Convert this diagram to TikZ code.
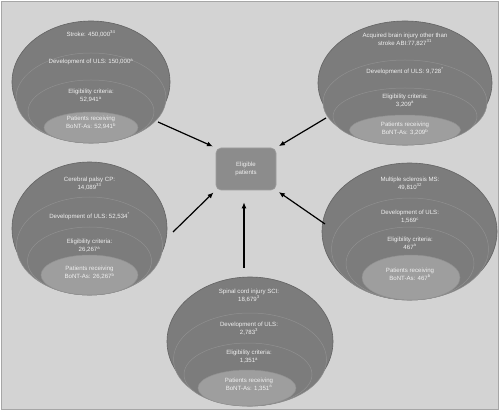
\documentclass[tikz,border=0pt]{standalone}
\usepackage{xcolor}
\usepackage{tikz}
\usetikzlibrary{arrows.meta}
\usepackage{fontspec}
\setmainfont{Liberation Sans}

\definecolor{bggray}{HTML}{D3D3D3}
\definecolor{framegray}{HTML}{A6A6A6}
\definecolor{ringgray}{HTML}{7C7C7C}
\definecolor{ringline}{HTML}{909090}
\definecolor{coregray}{HTML}{9E9E9E}
\definecolor{boxgray}{HTML}{8C8C8C}
\definecolor{txtgray}{HTML}{F0F0F0}

\begin{document}
\begin{tikzpicture}[x=1pt,y=-1pt,
   outerring/.style={fill=ringgray,draw=ringgray!80!black,line width=0.6pt},
   ring/.style={fill=ringgray,draw=ringline,line width=0.5pt},
   core/.style={fill=coregray,draw=ringline,line width=0.5pt},
   lbl/.style={text=txtgray,align=center,inner sep=0pt,font=\fontsize{6.1}{7.9}\selectfont},
   feed/.style={line width=1.2pt,-{Latex[length=6pt,width=5pt]},shorten >=3pt}]
   \useasboundingbox (0,0) rectangle (500,411);
   \draw[draw=framegray,fill=bggray,line width=0.8pt] (1,1) rectangle (498.5,409);

   % stroke
   \draw[outerring] (91,82) ellipse [x radius=79, y radius=61];
   \draw[ring] (91,98) ellipse [x radius=75, y radius=45];
   \draw[ring] (91,111.5) ellipse [x radius=63, y radius=31.5];
   \draw[core] (91,127.5) ellipse [x radius=47, y radius=15.5];
   \node[lbl] (stroke) at (91,34) {Stroke: 450,000\textsuperscript{34}};
   \node[lbl] (strokeuls) at (91,62) {Development of ULS: 150,000\textsuperscript{a}};
   \node[lbl] (strokeelig) at (91,96) {Eligibility criteria:\\52,941\textsuperscript{a}};
   \node[lbl] (strokebont) at (91,123) {Patients receiving\\BoNT-As: 52,941\textsuperscript{b}};

   % acquired brain injury
   \draw[outerring] (405,83) ellipse [x radius=87, y radius=62];
   \draw[ring] (405,102.5) ellipse [x radius=82, y radius=42.5];
   \draw[ring] (405,116.5) ellipse [x radius=72, y radius=28.5];
   \draw[core] (405,130) ellipse [x radius=55.5, y radius=15];
   \node[lbl] (abi) at (405,39.5) {Acquired brain injury other than\\stroke ABI:77,827\textsuperscript{31}};
   \node[lbl] (abiuls) at (405,71) {Development of ULS: 9,728\textsuperscript{*}};
   \node[lbl] (abielig) at (405,100.5) {Eligibility criteria:\\3,209\textsuperscript{a}};
   \node[lbl] (abibont) at (405,129) {Patients receiving\\BoNT-As: 3,209\textsuperscript{b}};

   % cerebral palsy
   \draw[outerring] (89.5,228.5) ellipse [x radius=77.5, y radius=66.5];
   \draw[ring] (89.5,246) ellipse [x radius=73, y radius=49];
   \draw[ring] (89.5,261) ellipse [x radius=62, y radius=34];
   \draw[core] (89.5,275) ellipse [x radius=48.5, y radius=20];
   \node[lbl] (cp) at (89.5,183.5) {Cerebral palsy CP:\\14,089\textsuperscript{33}};
   \node[lbl] (cpuls) at (89.5,216) {Development of ULS: 52,534\textsuperscript{*}};
   \node[lbl] (cpelig) at (89.5,246) {Eligibility criteria:\\26,267\textsuperscript{a}};
   \node[lbl] (cpbont) at (89.5,273) {Patients receiving\\BoNT-As: 26,267\textsuperscript{b}};

   % multiple sclerosis
   \draw[outerring] (409.5,231.5) ellipse [x radius=87.5, y radius=68.5];
   \draw[ring] (410,249) ellipse [x radius=78.5, y radius=51];
   \draw[ring] (410,263.5) ellipse [x radius=64, y radius=36.5];
   \draw[core] (411,277.5) ellipse [x radius=49, y radius=22.5];
   \node[lbl] (ms) at (410,183.5) {Multiple sclerosis MS:\\49,810\textsuperscript{32}};
   \node[lbl] (msuls) at (410,217) {Development of ULS:\\1,569\textsuperscript{c}};
   \node[lbl] (mselig) at (410,243) {Eligibility criteria:\\467\textsuperscript{a}};
   \node[lbl] (msbont) at (410,274) {Patients receiving\\BoNT-As: 467\textsuperscript{b}};

   % spinal cord injury
   \draw[outerring] (250,341.5) ellipse [x radius=83, y radius=64.5];
   \draw[ring] (250,359.5) ellipse [x radius=76.5, y radius=46.5];
   \draw[ring] (248,374.5) ellipse [x radius=64, y radius=31.5];
   \draw[core] (247,388) ellipse [x radius=49, y radius=18];
   \node[lbl] (sci) at (249,295.5) {Spinal cord injury SCI:\\18,679\textsuperscript{3}};
   \node[lbl] (sciuls) at (249,328.5) {Development of ULS:\\2,783\textsuperscript{3}};
   \node[lbl] (scielig) at (249,357) {Eligibility criteria:\\1,351\textsuperscript{a}};
   \node[lbl] (scibont) at (249,384.5) {Patients receiving\\BoNT-As: 1,351\textsuperscript{a}};

   % centre box and arrows
   \node[lbl,fill=boxgray,draw=boxgray!85!white,line width=0.6pt,rounded corners=5pt,
         minimum width=60pt,minimum height=42pt] (elig) at (246,169) {Eligible\\patients};
   \coordinate (strokearr) at (158,122);
   \coordinate (abiarr) at (326,118);
   \coordinate (cparr) at (173,232);
   \coordinate (msarr) at (325,224);
   \coordinate (sciarr) at (244,268);
   \draw[feed] (strokearr) -- (elig.north west);
   \draw[feed] (abiarr) -- (elig.north east);
   \draw[feed] (cparr) -- (elig.south west);
   \draw[feed] (msarr) -- (elig.south east);
   \draw[feed,shorten >=12pt] (sciarr) -- (sciarr |- elig.south);
\end{tikzpicture}
\end{document}
